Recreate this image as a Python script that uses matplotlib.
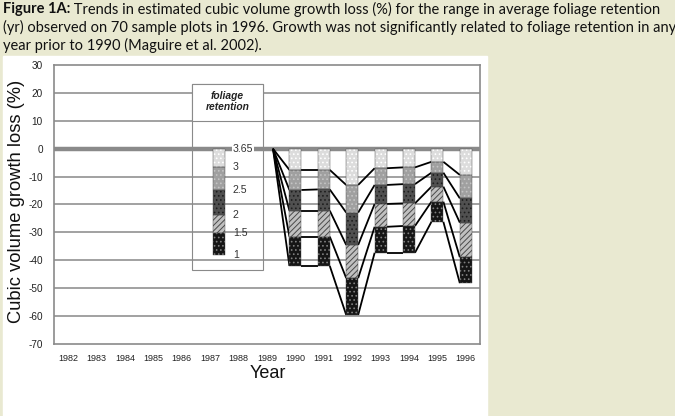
import matplotlib.pyplot as plt
from matplotlib.patches import Rectangle

# categories on the x axis
years = ['1982', '1983', '1984', '1985', '1986', '1987', '1988', '1989',
         '1990', '1991', '1992', '1993', '1994', '1995', '1996']

# years that carry growth-loss bars (1989 = common zero start point)
bar_years = ['1989', '1990', '1991', '1992', '1993', '1994', '1995', '1996']

# growth loss (%) at each foliage retention level (3.65 yr = no loss)
retention_levels = ['3.65', '3', '2.5', '2', '1.5', '1']
loss_365 = [0, 0, 0, 0, 0, 0, 0, 0]
loss_3 = [0, -7.6, -7.6, -13.0, -7.0, -6.7, -4.7, -9.4]
loss_25 = [0, -14.8, -14.6, -22.9, -13.0, -12.7, -8.6, -17.8]
loss_2 = [0, -22.2, -22.2, -34.5, -19.8, -19.6, -13.6, -26.5]
loss_15 = [0, -31.5, -31.5, -46.4, -28.0, -27.7, -19.0, -38.9]
loss_1 = [0, -42.0, -42.0, -59.6, -37.3, -37.3, -26.2, -48.2]

# boundaries of the sample bar drawn inside the legend box
legend_bounds = [0, -6.6, -14.9, -23.8, -30.3, -38.2]

caption_bold = 'Figure 1A:'
caption_lines = [
    ' Trends in estimated cubic volume growth loss (%) for the range in average foliage retention',
    '(yr) observed on 70 sample plots in 1996. Growth was not significantly related to foliage retention in any',
    'year prior to 1990 (Maguire et al. 2002).',
]

# segment looks, top (3.65-3) to bottom (1.5-1): face, hatch, hatch colour
seg_styles = [
    ('#dcdcdc', '....', '#ffffff'),
    ('#a0a0a0', '....', '#c4c4c4'),
    ('#505050', '....', '#1e1e1e'),
    ('#c0c0c0', '//////', '#4a4a4a'),
    ('#151515', '....', '#808080'),
]

plt.rcParams['hatch.linewidth'] = 0.7
BG = '#e9e9d1'
W = 0.42

fig = plt.figure(figsize=(6.75, 4.16), dpi=100, facecolor=BG)
fig.patches.append(Rectangle((3 / 675, 0), 484 / 675, 360 / 416,
                             transform=fig.transFigure, color='white', zorder=-1))
ax = fig.add_axes([54 / 675, 1 - 344 / 416, 426 / 675, 279 / 416])
ax.set_zorder(1)
ax.set_facecolor('white')


def draw_bar(x, bounds):
    for k, (face, hatch, hcol) in enumerate(seg_styles):
        top, bot = bounds[k], bounds[k + 1]
        ax.bar(x, bot - top, W, bottom=top, color=face, lw=0, zorder=3)
        ax.bar(x, bot - top, W, bottom=top, facecolor='none', hatch=hatch,
               edgecolor=hcol, lw=0, zorder=3.1)
        ax.bar(x, bot - top, W, bottom=top, facecolor='none',
               edgecolor='#444444', lw=0.3, zorder=3.2)


series = [loss_365, loss_3, loss_25, loss_2, loss_15, loss_1]
xpos = [years.index(y) for y in bar_years]

for i, x in enumerate(xpos):
    bounds = [s[i] for s in series]
    if bar_years[i] != '1989':
        draw_bar(x, bounds)

# connecting lines between bar edges
for s in series[1:]:
    for i in range(len(xpos) - 1):
        ax.plot([xpos[i] + W / 2, xpos[i + 1] - W / 2], [s[i], s[i + 1]],
                color='black', lw=1.3, zorder=2.5, solid_capstyle='butt')

# grid and zero line
for v in range(-60, 30, 10):
    ax.axhline(v, color='#9a9a9a', lw=1.3, zorder=1)
ax.axhline(0, color='#8a8a8a', lw=3.2, zorder=2)

# legend box
lx0, lx1 = 4.36, 6.86
ax.add_patch(Rectangle((lx0, -43.5), lx1 - lx0, 66.7, facecolor='none',
                       edgecolor='#8a8a8a', lw=0.8, zorder=2.6))
ax.add_patch(Rectangle((lx0, 10), lx1 - lx0, 13.2, facecolor='white',
                       edgecolor='#8a8a8a', lw=0.8, zorder=2.7))
ax.text((lx0 + lx1) / 2, 16.8, 'foliage\nretention', ha='center', va='center',
        fontsize=7.4, fontweight='bold', style='italic', family='Liberation Sans',
        color='#222222', linespacing=1.15, zorder=4)
draw_bar(5.31, legend_bounds)
for lab, v in zip(retention_levels, legend_bounds):
    bbox = dict(facecolor='white', edgecolor='none', pad=0.6) if lab == '3.65' else None
    ax.text(5.80, v, lab, ha='left', va='center', fontsize=7.6,
            family='Liberation Sans', color='#333333', zorder=5, bbox=bbox)

ax.set_xlim(-0.5, 14.5)
ax.set_ylim(-70, 30)
ax.set_xticks(range(len(years)))
ax.set_xticklabels(years, fontsize=6.5, family='Liberation Sans', color='#222222')
ax.set_yticks(range(-70, 31, 10))
ax.set_yticklabels([str(v) for v in range(-70, 31, 10)], fontsize=7.2,
                   family='Liberation Sans', color='#222222')
ax.tick_params(length=0)
ax.tick_params(axis='x', pad=7)
ax.tick_params(axis='y', pad=8)
for sp in ax.spines.values():
    sp.set_color('#8a8a8a')
    sp.set_linewidth(1.2)

fig.text(17 / 675, 1 - 201 / 416, 'Cubic volume growth loss (%)', rotation=90,
         ha='center', va='center', fontsize=13.2, family='Liberation Sans',
         color='#111111')
fig.text(268 / 675, 1 - 374 / 416, 'Year', ha='center', va='center',
         fontsize=13, family='Liberation Sans', color='#111111')

# caption
cap_kw = dict(fontsize=10.5, family='Lato', color='#111111', va='center')
t = fig.text(3 / 675, 1 - 9 / 416, caption_bold, fontweight='bold', **cap_kw)
fig.canvas.draw()
bb = t.get_window_extent(fig.canvas.get_renderer())
fig.text(bb.x1 / 675, 1 - 9 / 416, caption_lines[0], **cap_kw)
fig.text(3 / 675, 1 - 27 / 416, caption_lines[1], **cap_kw)
fig.text(3 / 675, 1 - 45 / 416, caption_lines[2], **cap_kw)

fig.savefig('out.png', dpi=100, facecolor=BG)
